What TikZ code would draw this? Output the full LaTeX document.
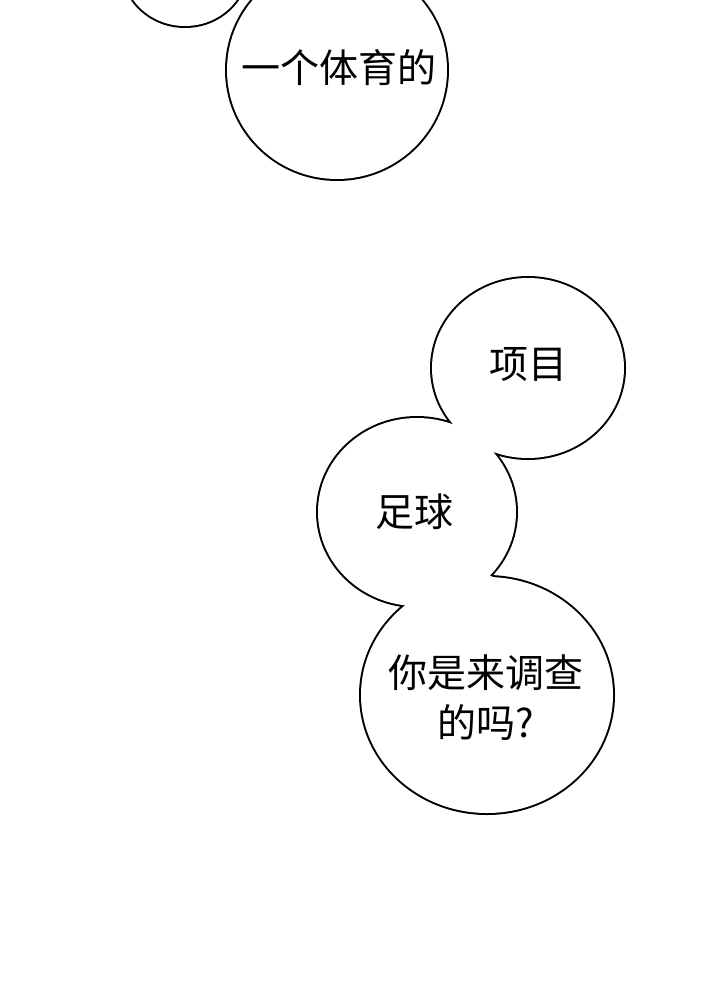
\documentclass[tikz,border=0pt]{standalone}
\usepackage{fontspec}
\newfontfamily\cjk{Noto Sans CJK SC}
\begin{document}
\begin{tikzpicture}[x=1pt,y=-1pt,txt/.style={font=\cjk\fontsize{39}{50}\selectfont,align=center,inner sep=0}]
\useasboundingbox (0,0) rectangle (720,996);
\clip (0,0) rectangle (720,996);
\fill[white] (0,0) rectangle (720,996);
\def\shapes{
  (185,-32) ellipse [x radius=62, y radius=58]
  (337,70) ellipse [x radius=110, y radius=109]
  (528,368) ellipse [x radius=96, y radius=90]
  (417,512) ellipse [x radius=99, y radius=94]
  (487,695) ellipse [x radius=126, y radius=118]
  (455,595) ellipse [x radius=55, y radius=25]
}
\draw[line width=4] \shapes;
\fill[white] \shapes;
\node[txt] (t1) at (339,68) {一个体育的};
\node[txt] (t2) at (528,365) {项目};
\node[txt] (t3) at (414,512) {足球};
\node[txt] (t4) at (486,698) {你是来调查\\的吗?};
\end{tikzpicture}
\end{document}
